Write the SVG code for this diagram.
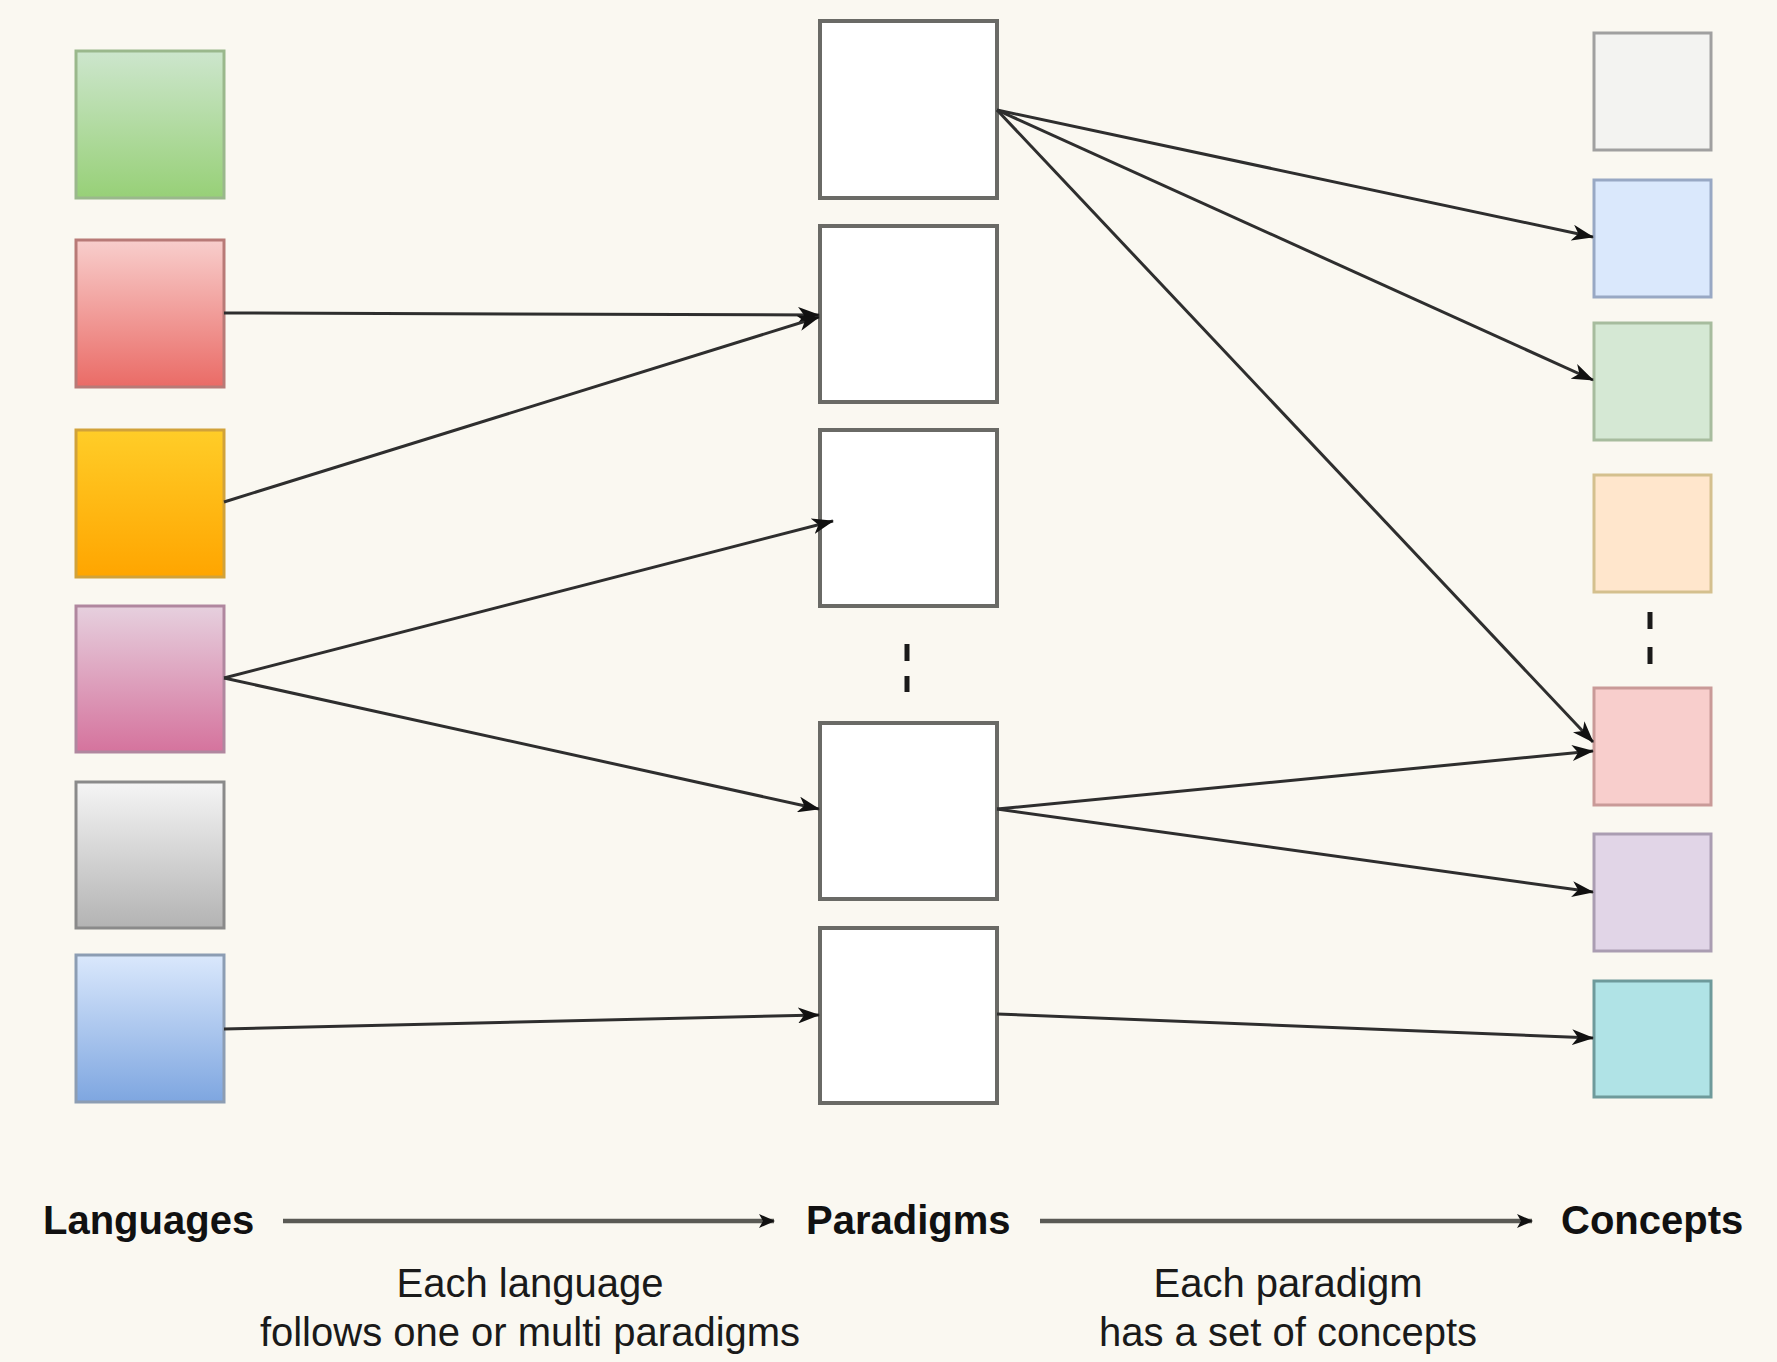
<svg xmlns="http://www.w3.org/2000/svg" width="1777" height="1362" viewBox="0 0 1777 1362">
  <style>
    .lang { stroke-width: 3; }
    .para { fill: #ffffff; stroke: #6a6a66; stroke-width: 4; }
    .conc { stroke-width: 3; }
    .edge { fill: none; stroke: #2e2e2e; stroke-width: 3; marker-end: url(#arrow); }
    .flow { fill: none; stroke: #5a5a55; stroke-width: 4.5; marker-end: url(#arrowSmall); }
    .dash { stroke: #1a1a1a; stroke-width: 5; }
    .title { font-family: "Liberation Sans", Arial, sans-serif; font-size: 40px; font-weight: bold; fill: #111111; }
    .note { font-family: "Liberation Sans", Arial, sans-serif; font-size: 40px; fill: #1a1a1a; text-anchor: middle; }
  </style>
  <defs>
    <marker id="arrow" viewBox="0 0 22 16" refX="21" refY="8" markerWidth="22" markerHeight="16" markerUnits="userSpaceOnUse" orient="auto">
      <path d="M0,0 L22,8 L0,16 L6,8 Z" fill="#111111"/>
    </marker>
    <marker id="arrowSmall" viewBox="0 0 16 14" refX="15" refY="7" markerWidth="16" markerHeight="14" markerUnits="userSpaceOnUse" orient="auto">
      <path d="M0,0 L16,7 L0,14 L4,7 Z" fill="#111111"/>
    </marker>
    <linearGradient id="gGreen" x1="0" y1="0" x2="0" y2="1"><stop offset="0" stop-color="#cde6cd"/><stop offset="1" stop-color="#97d077"/></linearGradient>
    <linearGradient id="gRed" x1="0" y1="0" x2="0" y2="1"><stop offset="0" stop-color="#f8cecc"/><stop offset="1" stop-color="#ea6b66"/></linearGradient>
    <linearGradient id="gOrange" x1="0" y1="0" x2="0" y2="1"><stop offset="0" stop-color="#ffcd28"/><stop offset="1" stop-color="#ffa500"/></linearGradient>
    <linearGradient id="gPink" x1="0" y1="0" x2="0" y2="1"><stop offset="0" stop-color="#e6d0de"/><stop offset="1" stop-color="#d5739d"/></linearGradient>
    <linearGradient id="gGray" x1="0" y1="0" x2="0" y2="1"><stop offset="0" stop-color="#f5f5f5"/><stop offset="1" stop-color="#b3b3b3"/></linearGradient>
    <linearGradient id="gBlue" x1="0" y1="0" x2="0" y2="1"><stop offset="0" stop-color="#dae8fc"/><stop offset="1" stop-color="#7ea6e0"/></linearGradient>
  </defs>

  <rect width="1777" height="1362" fill="#faf8f1"/>

  <!-- Languages column -->
  <g id="lang-green"><rect class="lang" x="76" y="51" width="148" height="147" fill="url(#gGreen)" stroke="#9ab88c"/></g>
  <g id="lang-red"><rect class="lang" x="76" y="240" width="148" height="147" fill="url(#gRed)" stroke="#b87a77"/></g>
  <g id="lang-orange"><rect class="lang" x="76" y="430" width="148" height="147" fill="url(#gOrange)" stroke="#d1a23a"/></g>
  <g id="lang-pink"><rect class="lang" x="76" y="606" width="148" height="146" fill="url(#gPink)" stroke="#b0879f"/></g>
  <g id="lang-gray"><rect class="lang" x="76" y="782" width="148" height="146" fill="url(#gGray)" stroke="#8a8a8a"/></g>
  <g id="lang-blue"><rect class="lang" x="76" y="955" width="148" height="147" fill="url(#gBlue)" stroke="#8c9db3"/></g>

  <!-- Paradigms column -->
  <g id="para-1"><rect class="para" x="820" y="21" width="177" height="177"/></g>
  <g id="para-2"><rect class="para" x="820" y="226" width="177" height="176"/></g>
  <g id="para-3"><rect class="para" x="820" y="430" width="177" height="176"/></g>
  <g id="para-more">
    <line class="dash" x1="907" y1="644" x2="907" y2="661"/>
    <line class="dash" x1="907" y1="676" x2="907" y2="692"/>
  </g>
  <g id="para-4"><rect class="para" x="820" y="723" width="177" height="176"/></g>
  <g id="para-5"><rect class="para" x="820" y="928" width="177" height="175"/></g>

  <!-- Concepts column -->
  <g id="concept-1"><rect class="conc" x="1594" y="33" width="117" height="117" fill="#f3f3f1" stroke="#a0a0a0"/></g>
  <g id="concept-2"><rect class="conc" x="1594" y="180" width="117" height="117" fill="#dae8fc" stroke="#98a8c4"/></g>
  <g id="concept-3"><rect class="conc" x="1594" y="323" width="117" height="117" fill="#d5e8d4" stroke="#a7bc9e"/></g>
  <g id="concept-4"><rect class="conc" x="1594" y="475" width="117" height="117" fill="#ffe6cc" stroke="#d4c08e"/></g>
  <g id="concept-more">
    <line class="dash" x1="1650" y1="612" x2="1650" y2="629"/>
    <line class="dash" x1="1650" y1="647" x2="1650" y2="664"/>
  </g>
  <g id="concept-5"><rect class="conc" x="1594" y="688" width="117" height="117" fill="#f8cecc" stroke="#c99a98"/></g>
  <g id="concept-6"><rect class="conc" x="1594" y="834" width="117" height="117" fill="#e1d5e7" stroke="#aa9db2"/></g>
  <g id="concept-7"><rect class="conc" x="1594" y="981" width="117" height="116" fill="#b0e3e6" stroke="#6e9a9b"/></g>

  <!-- Connectors -->
  <g id="connectors">
    <path class="edge" d="M224,313 L819,315"/>
    <path class="edge" d="M224,502 L819,317"/>
    <path class="edge" d="M224,678 L833,521"/>
    <path class="edge" d="M224,678 L819,809"/>
    <path class="edge" d="M224,1029 L819,1015"/>
    <path class="edge" d="M997,110 L1593,237"/>
    <path class="edge" d="M997,110 L1593,380"/>
    <path class="edge" d="M997,110 L1593,742"/>
    <path class="edge" d="M997,809 L1593,751"/>
    <path class="edge" d="M997,809 L1593,892"/>
    <path class="edge" d="M997,1014 L1593,1038"/>
  </g>

  <!-- Legend -->
  <g id="legend">
    <text class="title" x="43" y="1234">Languages</text>
    <path class="flow" d="M283,1221 L774,1221"/>
    <text class="title" x="806" y="1234">Paradigms</text>
    <path class="flow" d="M1040,1221 L1532,1221"/>
    <text class="title" x="1561" y="1234">Concepts</text>
    <text class="note" x="530" y="1297">Each language</text>
    <text class="note" x="530" y="1346">follows one or multi paradigms</text>
    <text class="note" x="1288" y="1297">Each paradigm</text>
    <text class="note" x="1288" y="1346">has a set of concepts</text>
  </g>
</svg>
